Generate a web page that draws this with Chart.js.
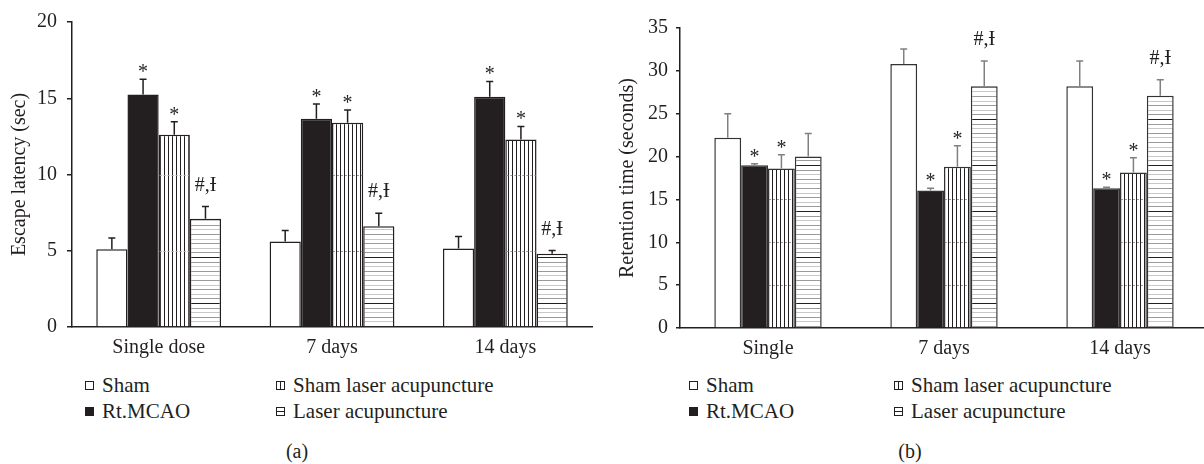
<!DOCTYPE html>
<html>
<head>
<meta charset="utf-8">
<script src="https://cdn.jsdelivr.net/npm/chart.js@4"></script>
<style>
  html, body { margin: 0; padding: 0; background: #fff; overflow: hidden; }
  body { width: 1204px; height: 464px; position: relative; font-family: 'Liberation Serif', serif; color: #231f20; }
  canvas { position: absolute; top: 0; }
  .leg { position: absolute; font-size: 21px; line-height: 24px; white-space: nowrap; }
  .sw { position: absolute; width: 7px; height: 7px; border: 1px solid #231f20; background: #fff; }
  .cap { position: absolute; font-size: 20px; line-height: 24px; transform: translateX(-50%); }
</style>
</head>
<body>
<canvas id="chartA" width="600" height="370" style="left:0"></canvas>
<canvas id="chartB" width="612" height="370" style="left:600px"></canvas>
<div id="legends"></div>
<script>
const categoriesA = ['Single dose', '7 days', '14 days'];
const categoriesB = ['Single', '7 days', '14 days'];
const seriesNames = ['Sham', 'Rt.MCAO', 'Sham laser acupuncture', 'Laser acupuncture'];

// (a) escape latency (sec), mean and upper error
const shamA = [5.1, 5.6, 5.15];
const mcaoA = [15.25, 13.65, 15.1];
const shamLaserA = [12.6, 13.4, 12.3];
const laserA = [7.1, 6.6, 4.8];
const shamErrA = [0.73, 0.73, 0.78];
const mcaoErrA = [1.0, 0.98, 1.0];
const shamLaserErrA = [0.86, 0.83, 0.85];
const laserErrA = [0.8, 0.86, 0.21];

// (b) retention time (seconds)
const shamB = [22.2, 30.8, 28.2];
const mcaoB = [19.0, 16.05, 16.3];
const shamLaserB = [18.6, 18.8, 18.15];
const laserB = [20.0, 28.2, 27.1];
const shamErrB = [2.8, 1.75, 2.95];
const mcaoErrB = [0.15, 0.25, 0.12];
const shamLaserErrB = [1.6, 2.45, 1.7];
const laserErrB = [2.7, 2.95, 1.85];

// significance marks, per series and category
const marksA = [
  ['', '', ''],
  ['*', '*', '*'],
  ['*', '*', '*'],
  ['#,Ɨ', '#,Ɨ', '#,Ɨ']
];
const marksB = [
  ['', '', ''],
  ['*', '*', '*'],
  ['*', '*', '*'],
  ['', '#,Ɨ', '#,Ɨ']
];

const ink = '#231f20';
const font = { family: 'Liberation Serif', size: 20 };

function stripes(vertical) {
  const c = document.createElement('canvas');
  const g = c.getContext('2d');
  if (vertical) {
    c.width = 4; c.height = 4;
    g.fillStyle = '#fff'; g.fillRect(0, 0, 4, 4);
    g.fillStyle = ink; g.fillRect(0, 0, 1, 4);
  } else {
    c.width = 4; c.height = 46;
    g.fillStyle = '#fff'; g.fillRect(0, 0, 4, 46);
    for (let i = 0; i < 10; i++) {
      const y = Math.round(27 + i * 4.6) % 46;
      g.fillStyle = i === 0 ? ink : (i % 2 ? '#9a9a9a' : '#c8c8c8');
      g.fillRect(0, y, 4, 1);
    }
  }
  return g.createPattern(c, 'repeat');
}

const errorBars = {
  id: 'errorBars',
  afterDatasetsDraw(chart, args, opts) {
    const { ctx } = chart;
    const y = chart.scales.y;
    ctx.save();
    chart.data.datasets.forEach((ds, i) => {
      chart.getDatasetMeta(i).data.forEach((bar, j) => {
        // faint dashed guide lines inside the vertical-stripe bars
        if (i === 2) {
          ctx.strokeStyle = '#9a9a9a';
          ctx.lineWidth = 1;
          ctx.setLineDash([2, 2]);
          y.ticks.forEach(t => {
            if (t.value > 0 && t.value < ds.data[j]) {
              const py = Math.round(y.getPixelForValue(t.value)) + 0.5;
              ctx.beginPath();
              ctx.moveTo(bar.x - bar.width / 2 + 1, py);
              ctx.lineTo(bar.x + bar.width / 2 - 1, py);
              ctx.stroke();
            }
          });
          ctx.setLineDash([]);
        }
        const top = y.getPixelForValue(ds.data[j] + ds.errors[j]);
        ctx.strokeStyle = opts.color;
        ctx.lineWidth = 1.5;
        ctx.beginPath();
        ctx.moveTo(bar.x, bar.y);
        ctx.lineTo(bar.x, top);
        ctx.moveTo(bar.x - 3.5, top);
        ctx.lineTo(bar.x + 3.5, top);
        ctx.stroke();
        const m = ds.marks[j];
        if (m) {
          ctx.fillStyle = ink;
          ctx.font = '20px "Liberation Serif"';
          ctx.textAlign = 'center';
          ctx.textBaseline = 'alphabetic';
          ctx.fillText(m, bar.x, top - (m === '*' ? 1 : 16));
        }
      });
    });
    ctx.restore();
  }
};

function buildChart(id, o) {
  const fills = ['#ffffff', ink, stripes(true), stripes(false)];
  return new Chart(document.getElementById(id), {
    type: 'bar',
    data: {
      labels: o.labels,
      datasets: o.values.map((v, i) => ({
        label: seriesNames[i],
        data: v,
        errors: o.errors[i],
        marks: o.marks[i],
        backgroundColor: fills[i],
        borderColor: o.edge,
        borderWidth: 1.5,
        categoryPercentage: o.cat,
        barPercentage: 1
      }))
    },
    options: {
      responsive: false,
      animation: false,
      layout: { padding: { top: o.top, right: o.right, left: 0, bottom: 0 } },
      plugins: { legend: { display: false }, tooltip: { enabled: false }, errorBars: { color: o.errColor } },
      scales: {
        x: {
          grid: { display: true, drawOnChartArea: false, drawTicks: false, color: ink },
          border: { display: true, color: ink, width: 1.5 },
          ticks: { font, color: ink, padding: 9, maxRotation: 0 },
          afterFit: s => { s.height = o.xh; }
        },
        y: {
          min: 0, max: o.max,
          ticks: { stepSize: 5, font, color: ink, padding: o.tickPad },
          grid: { drawOnChartArea: false, drawTicks: true, tickLength: o.tickLen, color: ink, lineWidth: 1.5 },
          border: { display: true, color: ink, width: 1.5 },
          title: { display: true, text: o.title, font, color: ink, padding: { top: o.titlePad, bottom: 0 } },
          afterFit: s => { s.width = o.yw; }
        }
      }
    },
    plugins: [errorBars]
  });
}

buildChart('chartA', {
  labels: categoriesA,
  values: [shamA, mcaoA, shamLaserA, laserA],
  errors: [shamErrA, mcaoErrA, shamLaserErrA, laserErrA],
  marks: marksA,
  max: 20, title: 'Escape latency (sec)',
  top: 15, right: 8, xh: 43, yw: 72, tickPad: 10, tickLen: 5, titlePad: 8,
  cat: 0.72, edge: ink, errColor: ink
});

buildChart('chartB', {
  labels: categoriesB,
  values: [shamB, mcaoB, shamLaserB, laserB],
  errors: [shamErrB, mcaoErrB, shamLaserErrB, laserErrB],
  marks: marksB,
  max: 35, title: 'Retention time (seconds)',
  top: 28, right: 4, xh: 42, yw: 80, tickPad: 8, tickLen: 4, titlePad: 16,
  cat: 0.61, edge: '#333333', errColor: '#808080'
});

// legends below each panel, two columns
const swatchBg = [
  '#fff',
  ink,
  'linear-gradient(90deg, #fff 0 3px, ' + ink + ' 3px 4px, #fff 4px)',
  'linear-gradient(#fff 0 3px, ' + ink + ' 3px 4px, #fff 4px)'
];
function legend(cols, caption, capX) {
  const box = document.getElementById('legends');
  const rows = [373, 399];
  seriesNames.forEach((name, i) => {
    const x = cols[Math.floor(i / 2)];
    const top = rows[i % 2];
    const sw = document.createElement('div');
    sw.className = 'sw';
    sw.style.left = (x - 17) + 'px';
    sw.style.top = (top + 8) + 'px';
    sw.style.background = swatchBg[i];
    box.appendChild(sw);
    const t = document.createElement('div');
    t.className = 'leg';
    t.style.left = x + 'px';
    t.style.top = top + 'px';
    t.textContent = name;
    box.appendChild(t);
  });
  const c = document.createElement('div');
  c.className = 'cap';
  c.style.left = capX + 'px';
  c.style.top = '439px';
  c.textContent = caption;
  box.appendChild(c);
}
legend([102, 293], '(a)', 297);
legend([706, 911], '(b)', 910);
</script>
</body>
</html>
